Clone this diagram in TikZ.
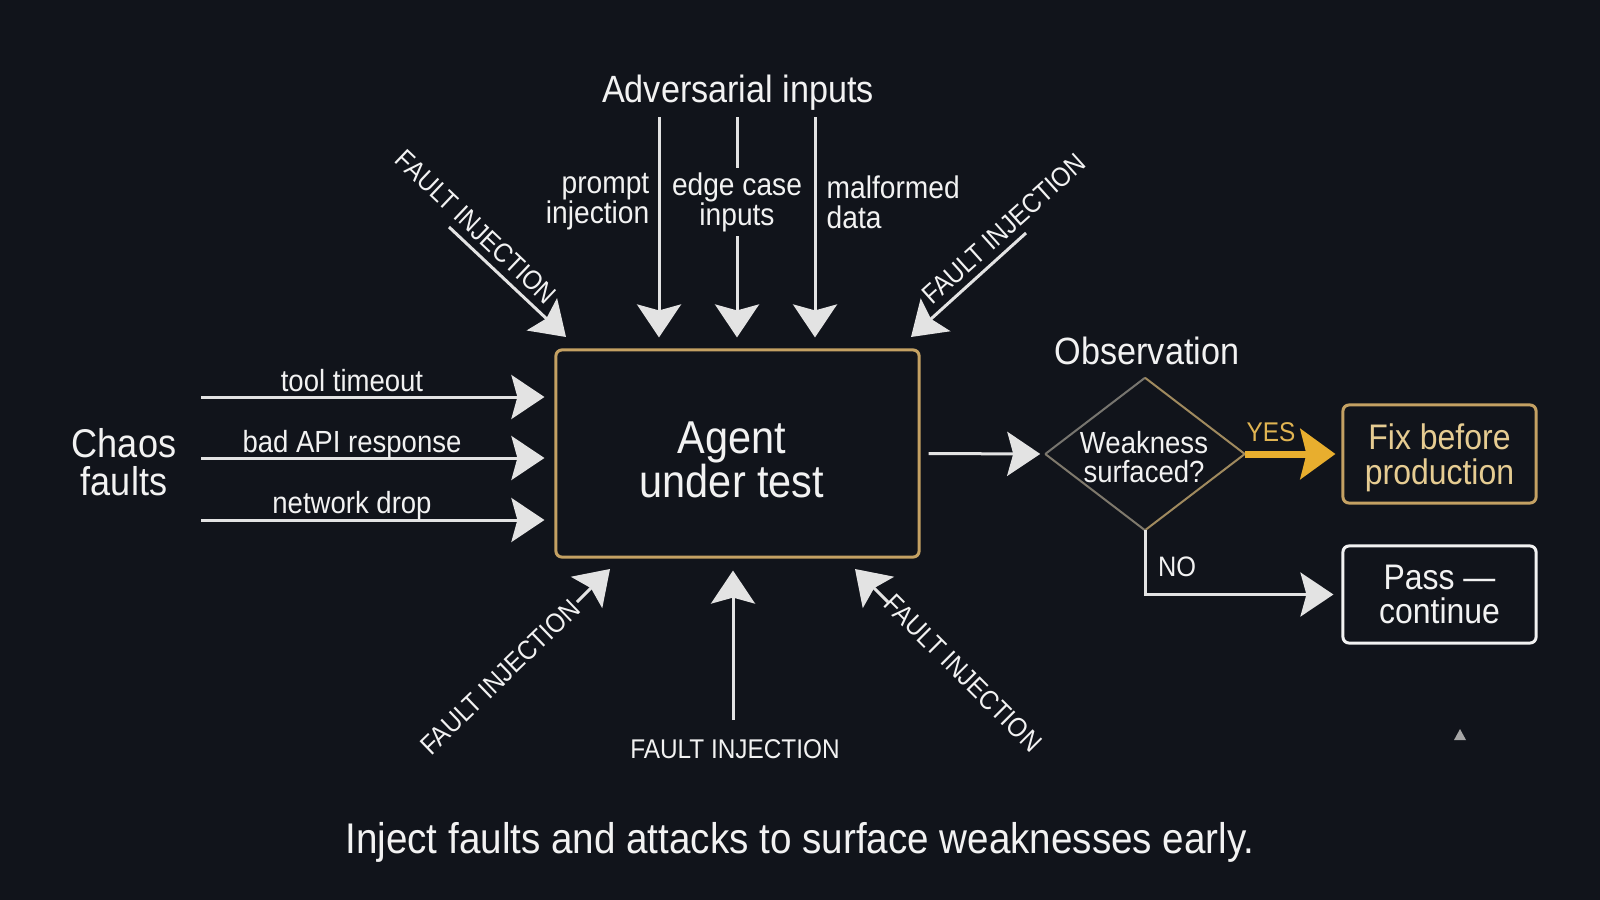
\documentclass[tikz,border=0pt]{standalone}
\usepackage{fontspec}
\setmainfont{Liberation Sans}[FakeStretch=0.9]
\usetikzlibrary{arrows.meta,shapes.geometric,calc}
\definecolor{bg}{HTML}{11141B}
\definecolor{fg}{HTML}{F2F2F2}
\definecolor{arrowc}{HTML}{E3E3E3}
\definecolor{boxgold}{HTML}{C4A163}
\definecolor{yesgold}{HTML}{E8AE2E}
\definecolor{fixtext}{HTML}{E6CC92}
\definecolor{yeslabel}{HTML}{E0B452}
\definecolor{diagray}{HTML}{77756F}
\definecolor{diatan}{HTML}{A08A5E}
\newcommand\myfs[2]{\fontsize{#1}{#2}\selectfont\lineskiplimit=-20pt\relax}
\begin{document}
\begin{tikzpicture}[x=0.01cm,y=-0.01cm,
  txt/.style={text=fg, inner sep=0pt, align=center},
  arr/.style={draw=arrowc, line width=0.3mm, -{Stealth[length=3.3mm,width=4.4mm,inset=0.6mm]}},
  yesarr/.style={draw=yesgold, line width=0.7mm, -{Stealth[length=3.5mm,width=5mm,inset=0.6mm]}},
  fault/.style={txt, font=\myfs{7.7pt}{8pt}},
  lab/.style={txt, font=\myfs{8.7pt}{8pt}, anchor=base},
  sub/.style={txt, font=\myfs{8.9pt}{8.5pt}},
  head/.style={txt, font=\myfs{10.8pt}{11pt}, anchor=base},
  outbox/.style={draw, line width=0.3mm, rounded corners=0.6mm, minimum width=1.93cm, inner sep=0pt, align=center, font=\myfs{10.1pt}{9.8pt}}
]
\fill[bg] (0,0) rectangle (1600,900);
\useasboundingbox (0,0) rectangle (1600,900);

% central box
\node[draw=boxgold, line width=0.3mm, rounded corners=0.6mm, minimum width=3.63cm, minimum height=2.07cm, inner sep=0pt] (agent) at (737.5,453.5) {};
\node[txt, font=\myfs{13.1pt}{12.6pt}] (agenttxt) at (732,460) {Agent\\under test};

% chaos faults
\node[txt, font=\myfs{11.4pt}{10.75pt}] (chaos) at (124,462) {Chaos\\faults};
\coordinate (c1) at (201,397);
\coordinate (c2) at (201,458);
\coordinate (c3) at (201,520);
\draw[arr, shorten >=1mm] (c1) -- (c1 -| agent.west);
\draw[arr, shorten >=1mm] (c2) -- (c2 -| agent.west);
\draw[arr, shorten >=1mm] (c3) -- (c3 -| agent.west);
\node[lab] (l1) at (352,391) {tool timeout};
\node[lab] (l2) at (352,452) {bad API response};
\node[lab] (l3) at (352,513) {network drop};

% adversarial inputs
\node[head] (adv) at (738,102) {Adversarial inputs};
\coordinate (a1) at (659,117);
\coordinate (a2) at (737,117);
\coordinate (a3) at (815,117);
\node[sub, anchor=east, align=right] (p1) at (650,202) {prompt\\injection};
\node[sub] (p2) at (737,202) {edge case\\inputs};
\node[sub, anchor=west, align=left] (p3) at (826,202) {malformed\\data};
\draw[arr, shorten >=1.1mm] (a1) -- (a1 |- agent.north);
\draw[draw=arrowc, line width=0.3mm, shorten >=0.4mm] (a2) -- (p2.north);
\draw[arr, shorten <=0.4mm, shorten >=1.1mm] (p2.south) -- (p2.south |- agent.north);
\draw[arr, shorten >=1.1mm] (a3) -- (a3 |- agent.north);

% diagonal fault injections
\coordinate (tlA) at (449,227);
\coordinate (tlB) at (566,337);
\draw[arr] (tlA) -- (tlB);
\node[fault, rotate=-43.5] (ftl) at (476,227) {FAULT INJECTION};

\coordinate (trA) at (1026,233);
\coordinate (trB) at (911,337);
\draw[arr] (trA) -- (trB);
\node[fault, rotate=42] (ftr) at (1004,229) {FAULT INJECTION};

\coordinate (blA) at (577,602);
\coordinate (blB) at (610,569);
\draw[arr] (blA) -- (blB);
\node[fault, rotate=44] (fbl) at (500,677) {FAULT INJECTION};

\coordinate (brA) at (888,602);
\coordinate (brB) at (855,569);
\draw[arr] (brA) -- (brB);
\node[fault, rotate=-45] (fbr) at (963,673) {FAULT INJECTION};

\coordinate (bm) at (733,720);
\draw[arr, shorten >=1.2mm] (bm) -- (bm |- agent.south);
\node[fault, anchor=base] (fbm) at (735,758) {FAULT INJECTION};

% observation
\node[head] (obs) at (1147,364) {Observation};
\node[diamond, minimum width=1.98cm, minimum height=1.51cm, inner sep=0pt] (dec) at (1145,454) {};
\draw[diagray, line width=0.2mm] (dec.west) -- (dec.north);
\draw[diatan, line width=0.2mm] (dec.north) -- (dec.east) -- (dec.south);
\draw[diagray!80!diatan, line width=0.2mm] (dec.south) -- (dec.west);
\node[txt, font=\myfs{8.7pt}{8.4pt}] (wk) at (1144,457) {Weakness\\surfaced?};
\draw[arr, shorten <=0.8mm, shorten >=0.5mm] (agent.east) -- (dec.west);

\node[outbox, draw=boxgold, minimum height=0.98cm] (fix) at (1439.5,454) {};
\node[txt, text=fixtext, font=\myfs{10.1pt}{9.8pt}] (fixtxt) at (1439.5,458) {Fix before\\production};
\node[outbox, draw=fg, text=fg, minimum height=0.97cm] (pass) at (1439.5,594.5) {Pass ---\\continue};

\draw[yesarr, shorten >=0.6mm] (dec.east) -- (fix.west);
\node[txt, text=yeslabel, font=\myfs{7.7pt}{8pt}, anchor=base] (yes) at (1271,441) {YES};
\draw[arr, shorten >=0.8mm] (dec.south) |- (pass.west);
\node[txt, font=\myfs{8pt}{8pt}, anchor=base] (no) at (1177,576) {NO};

% caption
\node[txt, font=\myfs{12.2pt}{13pt}, anchor=base] (cap) at (800,853) {Inject faults and attacks to surface weaknesses early.};

% small mark
\fill[gray!70] (1454,740) -- (1466,740) -- (1460,729) -- cycle;
\end{tikzpicture}
\end{document}
